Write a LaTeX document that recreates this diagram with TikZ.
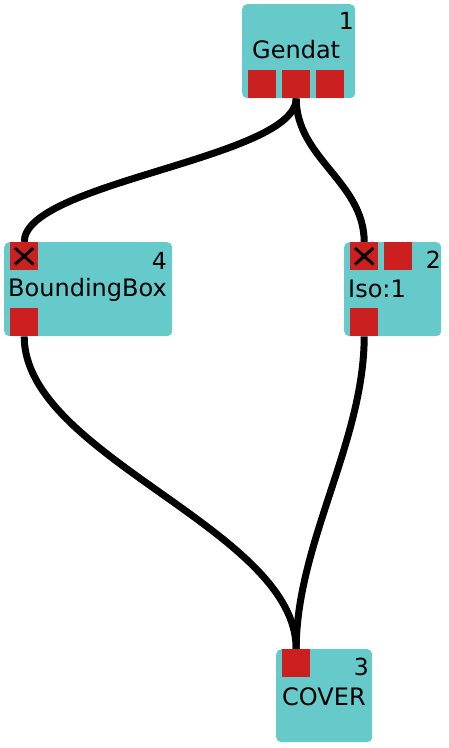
\documentclass[tikz,border=0pt]{standalone}
\usepackage{fontspec}
\setmainfont{DejaVu Sans}
\usetikzlibrary{calc}
\pgfdeclarelayer{background}
\pgfsetlayers{background,main}
\definecolor{boxteal}{RGB}{102,202,202}
\definecolor{portred}{RGB}{204,31,31}
\tikzset{
  modbox/.style={fill=boxteal, draw=none, rounded corners=5pt, inner sep=0pt, anchor=north west},
  port/.style={fill=portred, draw=none, inner sep=0pt, minimum width=28pt, minimum height=28pt, anchor=north west},
  lbl/.style={inner sep=0pt, anchor=base west, font=\fontsize{24}{29}\selectfont},
  num/.style={inner sep=0pt, anchor=base east, font=\fontsize{23.5}{29}\selectfont},
  conn/.style={line width=7pt, black},
  xmark/.style={line width=3pt, black}
}
\begin{document}
\begin{tikzpicture}[x=1pt, y=-1pt]
\useasboundingbox (0,0) rectangle (448,748);
% boxes
\node[modbox, minimum width=113pt, minimum height=94pt] (g) at (242,4) {};
\node[modbox, minimum width=168pt, minimum height=94pt] (bb) at (4,242) {};
\node[modbox, minimum width=97pt, minimum height=94pt] (iso) at (344,242) {};
\node[modbox, minimum width=96pt, minimum height=93pt] (cov) at (276,649) {};
% ports
\node[port] (g1) at (248,70) {};
\node[port] (g2) at (282,70) {};
\node[port] (g3) at (316,70) {};
\node[port] (bbi) at (10,242) {};
\node[port] (bbo) at (10,308) {};
\node[port] (isoi) at (350,242) {};
\node[port] (isoj) at (384,242) {};
\node[port] (isoo) at (350,308) {};
\node[port] (covi) at (282,649) {};
% X marks
\draw[xmark] ($(bbi.north west)+(5,6)$) -- ($(bbi.south east)+(-5,-6)$);
\draw[xmark] ($(bbi.south west)+(5,-6)$) -- ($(bbi.north east)+(-5,6)$);
\draw[xmark] ($(isoi.north west)+(5,6)$) -- ($(isoi.south east)+(-5,-6)$);
\draw[xmark] ($(isoi.south west)+(5,-6)$) -- ($(isoi.north east)+(-5,6)$);
% labels
\node[lbl] (tg) at (252,58) {Gendat};
\node[num] (ng) at (354,29) {1};
\node[lbl] (tbb) at (8,296) {BoundingBox};
\node[num] (nbb) at (167,269) {4};
\node[lbl] (tiso) at (348,297) {Iso:1};
\node[num] (niso) at (441,268) {2};
\node[lbl] (tcov) at (282,705) {COVER};
\node[num] (ncov) at (369,675) {3};
% connectors
\begin{pgfonlayer}{background}
\draw[conn] (g2.south) .. controls ($(g2.south)+(0,60)$) and ($(bbi.north)+(0,-60)$) .. (bbi.north);
\draw[conn] (g2.south) .. controls ($(g2.south)+(0,60)$) and ($(isoi.north)+(0,-60)$) .. (isoi.north);
\draw[conn] (bbo.south) .. controls ($(bbo.south)+(0,120)$) and ($(covi.north)+(0,-120)$) .. (covi.north);
\draw[conn] (isoo.south) .. controls ($(isoo.south)+(0,105)$) and ($(covi.north)+(0,-105)$) .. (covi.north);
\end{pgfonlayer}
\end{tikzpicture}
\end{document}
